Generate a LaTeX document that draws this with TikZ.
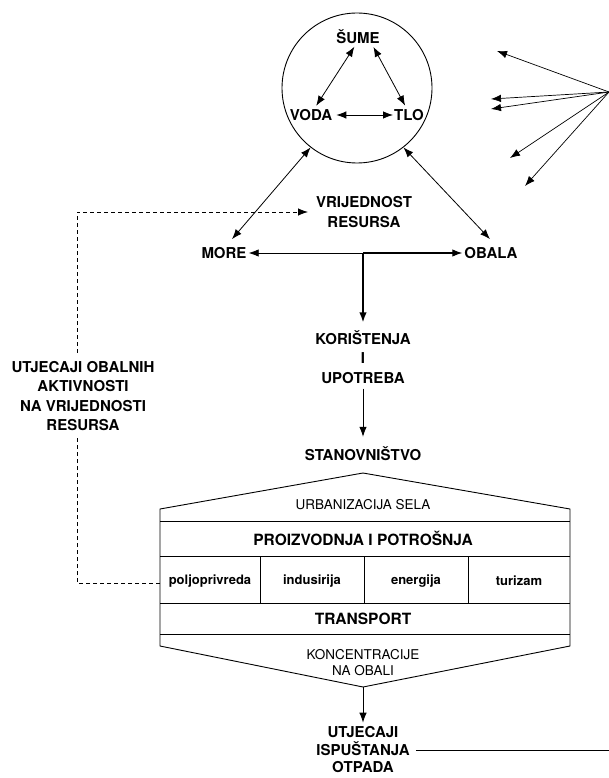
\documentclass[tikz,border=0pt]{standalone}
\usepackage{fontspec}
\setmainfont{TeX Gyre Heros}
\usetikzlibrary{arrows.meta,positioning}

\tikzset{
  lbl/.style={font=\bfseries\fontsize{15}{19.5}\selectfont, align=center, inner sep=0pt},
  tanki/.style={font=\fontsize{13.5}{16}\selectfont, align=center, inner sep=0pt},
  veliki/.style={font=\bfseries\fontsize{15.5}{18}\selectfont, inner sep=0pt},
  sektor/.style={font=\bfseries\fontsize{13}{14}\selectfont, inner sep=0pt},
  vrh/.tip={Latex[length=10pt,width=7.5pt]},
  veza/.style={line width=0.8pt, -{vrh}},
  dveza/.style={line width=0.8pt, {vrh}-{vrh}},
  crtkano/.style={line width=0.8pt, dash pattern=on 4pt off 3pt},
}

\begin{document}
\begin{tikzpicture}[x=1pt,y=-1pt]
  \useasboundingbox (0,0) rectangle (609,778);

  % Circle with forests, water and soil
  \node[circle, draw, line width=0.9pt, minimum size=150pt, inner sep=0pt] (krug) at (357,88) {};
  \node[lbl] (sume) at (358,37) {ŠUME};
  \node[lbl] (voda) at (311,115) {VODA};
  \node[lbl] (tlo)  at (409,115) {TLO};

  \draw[dveza, shorten <=3pt, shorten >=4pt] ([xshift=-2pt]sume.south) -- ([xshift=3pt]voda.north);
  \draw[dveza, shorten <=3pt, shorten >=4pt] ([xshift=14pt]sume.south) -- ([xshift=-2pt]tlo.north);
  \draw[dveza, shorten <=4pt, shorten >=1pt] (voda.east) -- (tlo.west);

  % Arrows coming from the right
  \coordinate (izvor) at (609,92);
  \coordinate (f1) at (497,51);
  \coordinate (f2) at (491,99);
  \coordinate (f3) at (491,109);
  \coordinate (f4) at (510,158);
  \coordinate (f5) at (525,186);
  \foreach \f in {f1,f2,f3,f4,f5}
    \draw[veza, line width=0.7pt] (izvor) -- (\f);

  % Sea, coast and value of resources
  \node[lbl, font=\bfseries\fontsize{15}{20}\selectfont] (vrijednost) at (364,212) {VRIJEDNOST\\RESURSA};
  \node[lbl] (more)  at (224,253) {MORE};
  \node[lbl] (obala) at (491,253) {OBALA};
  \coordinate (spoj) at (363,253);
  \coordinate (cilj) at (308,212);

  \draw[dveza] (krug.232) -- ([xshift=8pt,yshift=8pt]more.north);
  \draw[dveza] (krug.308) -- ([xshift=-1pt,yshift=8pt]obala.north);
  \draw[veza, shorten >=2pt] (spoj) -- (more.east);
  \draw[veza, line width=1.1pt, shorten >=2pt] (spoj) -- (obala.west);

  % Use and population
  \node[lbl] (koristenje) at (363,357) {KORIŠTENJA\\I\\UPOTREBA};
  \node[lbl] (stanovnistvo) at (363,454) {STANOVNIŠTVO};

  \draw[veza, line width=1.5pt, shorten >=8pt] (spoj) -- (koristenje.north);
  \draw[veza, shorten <=5pt, shorten >=10pt] (koristenje.south) -- (stanovnistvo.north);

  % Box of activities
  \draw[line width=0.9pt] (160,509) -- (363,473) -- (570,509) -- (570,646)
    -- (363,687) -- (160,646) -- cycle;
  \foreach \y in {521,556,603,634}
    \draw[line width=0.9pt] (160,\y) -- (570,\y);
  \foreach \x in {260,364,468}
    \draw[line width=0.9pt] (\x,556) -- (\x,603);
  \coordinate (dno) at (363,687);
  \coordinate (lijevo) at (160,583);

  \node[tanki] (urbanizacija) at (363,505) {URBANIZACIJA SELA};
  \node[veliki] (proizvodnja) at (363,538) {PROIZVODNJA I POTROŠNJA};
  \node[sektor] (poljo)  at (210,581) {poljoprivreda};
  \node[sektor] (indus)  at (312,581) {indusirija};
  \node[sektor] (energ)  at (416,581) {energija};
  \node[sektor] (turiz)  at (519,581) {turizam};
  \node[veliki] (transport) at (363,619) {TRANSPORT};
  \node[tanki] (koncentracije) at (363,663) {KONCENTRACIJE\\NA OBALI};

  % Waste discharge
  \node[lbl, font=\bfseries\fontsize{15}{17.5}\selectfont] (ispustanje) at (363,750) {UTJECAJI\\ISPUŠTANJA\\OTPADA};
  \coordinate (desno) at (609,750);
  \draw[veza, shorten >=4pt] (dno) -- (ispustanje.north);
  \draw[line width=0.8pt, shorten <=6pt] (ispustanje.east) -- (desno);

  % Feedback of coastal activities
  \node[lbl] (aktivnosti) at (83,396) {UTJECAJI OBALNIH\\AKTIVNOSTI\\NA VRIJEDNOSTI\\RESURSA};
  \draw[crtkano, shorten >=6pt] (lijevo) -| ([xshift=-6pt]aktivnosti.south);
  \draw[crtkano, -{vrh}, shorten <=8pt] ([xshift=-6pt]aktivnosti.north) |- (cilj);
\end{tikzpicture}
\end{document}
